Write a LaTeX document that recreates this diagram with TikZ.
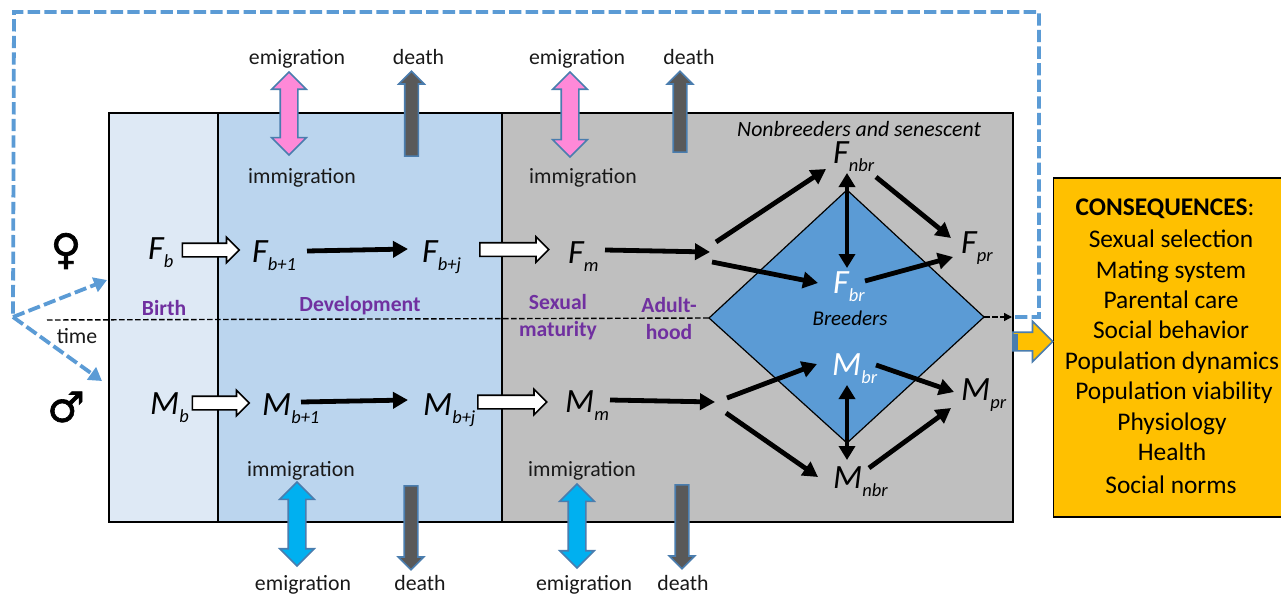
\documentclass[tikz,border=0pt]{standalone}
\usepackage{fontspec}
\setmainfont{Carlito}
\newfontfamily\symfont[FakeBold=1.5]{DejaVu Sans}
\usetikzlibrary{arrows.meta,shapes.arrows}
\definecolor{birthfill}{HTML}{DEE9F5}
\definecolor{devfill}{HTML}{BBD5EE}
\definecolor{grayfill}{HTML}{BFBFBF}
\definecolor{dimond}{HTML}{5B9BD5}
\definecolor{edgeblue}{HTML}{4A7DAE}
\definecolor{pinkarrow}{HTML}{FF89D8}
\definecolor{cyanarrow}{HTML}{00B0F0}
\definecolor{deatharrow}{HTML}{595959}
\definecolor{amberbox}{HTML}{FFC000}
\definecolor{stagepurple}{HTML}{7030A0}
\newcommand{\lbl}[2]{{\fontsize{34}{34}\selectfont\itshape #1\raisebox{-8pt}{\fontsize{18.5}{18.5}\selectfont #2}}}
\tikzset{
  panel/.style={draw=black,line width=2pt},
  blk/.style={draw=black,line width=4.8pt,-{Triangle[length=15pt,width=16pt]}},
  blkboth/.style={draw=black,line width=3.8pt,{Triangle[length=14pt,width=16pt]}-{Triangle[length=14pt,width=16pt]}},
  bluedash/.style={draw=dimond,line width=3.8pt,dash pattern=on 12.3pt off 4.3pt},
  blueend/.style={bluedash,-{Triangle[length=13pt,width=15pt]}},
  timeline/.style={draw=black,line width=1.4pt,dash pattern=on 5.5pt off 2.5pt},
  varname/.style={anchor=base west,inner sep=0pt},
  body/.style={anchor=base,inner sep=0pt,font=\fontsize{21.8}{24}\selectfont,text=black!90},
  stage/.style={inner sep=0pt,align=center,text=stagepurple,font=\fontsize{21.6}{27}\selectfont\bfseries},
  conseq/.style={anchor=base,inner sep=0pt,font=\fontsize{25.4}{28}\selectfont},
  oneway/.style n args={4}{shape=single arrow,anchor=tail,rotate=#1,minimum height=#2pt,minimum width=0pt,
     inner xsep=0pt,inner ysep=#3pt,single arrow head extend=#4pt,line width=1.6pt},
  twoway/.style n args={4}{shape=double arrow,anchor=center,rotate=#1,minimum height=#2pt,minimum width=0pt,
     inner xsep=0pt,inner ysep=#3pt,double arrow head extend=#4pt,line width=1.6pt},
  hollow/.style={oneway={0}{#1}{6}{6},draw=black,fill=white},
  deathup/.style={oneway={90}{#1}{6}{6},draw=edgeblue,fill=deatharrow},
  deathdown/.style={oneway={90}{#1}{6}{6},draw=edgeblue,fill=deatharrow},
  pinkflow/.style={twoway={90}{#1}{8}{8.5},draw=edgeblue,fill=pinkarrow},
  cyanflow/.style={twoway={90}{#1}{8}{8.5},draw=edgeblue,fill=cyanarrow},
}
\begin{document}
\begin{tikzpicture}[x=1pt,y=-1pt]
\useasboundingbox (0,0) rectangle (1281,596);
% panels
\path[panel,fill=birthfill] (109,113) rectangle (218,522);
\path[panel,fill=devfill] (218,113) rectangle (502,522);
\path[panel,fill=grayfill] (502,113) rectangle (1013,522);
% diamond
\coordinate (dL) at (709,318);
\coordinate (dR) at (984,317);
\path[draw=black,line width=1.2pt,fill=dimond] (dL) -- (847,190) -- (dR) -- (847,443) -- cycle;
% time axis
\coordinate (tstart) at (47,320);
\coordinate (tend) at (1012,317);
\draw[timeline] (tstart) -- (dL);
\draw[timeline,-{Triangle[length=8pt,width=8pt]}] (dR) -- (tend);
% feedback
\coordinate (fbA) at (1015,317);
\coordinate (fbB) at (1039,317);
\coordinate (fbC) at (1039,12);
\coordinate (fbD) at (14,12);
\coordinate (fbO) at (13,317);
\coordinate (toF) at (107,280);
\coordinate (toM) at (102,381);
\draw[bluedash] (fbA) -- (fbB) -- (fbC) -- (fbD) -- (fbO);
\draw[blueend] (fbO) -- (toF);
\draw[blueend] (fbO) -- (toM);
% consequences
\node[draw=black,line width=1.6pt,fill=amberbox,minimum width=231pt,minimum height=339pt,inner sep=0pt,anchor=north west] (box) at (1052.5,177) {};
\node[oneway={0}{40}{8.5}{11},draw=edgeblue,fill=amberbox] (outarrow) at (1012,341.5) {};
\fill[edgeblue] (1012,333.5) rectangle (1018,349.5);
% flows
\node[pinkflow=83] (em1) at (289,113.5) {};
\node[pinkflow=85] (em2) at (570,114.5) {};
\node[cyanflow=84] (im1) at (297,524) {};
\node[cyanflow=84] (im2) at (577,526) {};
\node[deathup=85] (d1) at (411.5,157) {};
\node[deathup=81] (d2) at (680,153) {};
\node[deathdown=84,rotate=180] (d3) at (411,485) {};
\node[deathdown=84,rotate=180] (d4) at (682,484) {};
% variables
\node[varname] (Fb) at (148,259) {\lbl{F}{b}};
\node[varname] (Fb1) at (252,262) {\lbl{F}{b+1}};
\node[varname] (Fbj) at (422,262) {\lbl{F}{b+j}};
\node[varname] (Fm) at (568,263) {\lbl{F}{m}};
\node[varname] (Mb) at (150,414) {\lbl{M}{b}};
\node[varname] (Mb1) at (262,415) {\lbl{M}{b+1}};
\node[varname] (Mbj) at (423,415) {\lbl{M}{b+j}};
\node[varname] (Mm) at (565,412) {\lbl{M}{m}};
\node[varname] (Fnbr) at (833,164) {\lbl{F}{nbr}};
\node[varname,text=white] (Fbr) at (833,293) {\lbl{F}{br}};
\node[varname] (Fpr) at (961,253) {\lbl{F}{pr}};
\node[varname,text=white] (Mbr) at (832,375) {\lbl{M}{br}};
\node[varname] (Mnbr) at (833,488) {\lbl{M}{nbr}};
\node[varname] (Mpr) at (961,400) {\lbl{M}{pr}};
\coordinate (jf) at (712,252);
\coordinate (jm) at (720,402);
% hollow arrows
\node[hollow=57] (hFb) at (181.5,250) {};
\node[hollow=69] (hFj) at (479,249.5) {};
\node[hollow=57] (hMb) at (191.5,403) {};
\node[hollow=69] (hMj) at (477,402) {};
% black connectors
\draw[blk] ([shift={(55,-11)}]Fb1.base west) -- ([shift={(-14,-13)}]Fbj.base west);
\draw[blk] ([shift={(37,-13)}]Fm.base west) -- ([shift={(-2,0)}]jf);
\draw[blk] ([shift={(4,-10)}]jf) -- ([shift={(-7,5)}]Fnbr.base west);
\draw[blk] ([shift={(0,10)}]jf) -- ([shift={(-15,-10)}]Fbr.base west);
\draw[blk] ([shift={(43,13)}]Fnbr.base west) -- ([shift={(-10,-15)}]Fpr.base west);
\draw[blk] ([shift={(32,-12)}]Fbr.base west) -- ([shift={(-8,4)}]Fpr.base west);
\draw[blkboth] ([shift={(14,9)}]Fnbr.base west) -- ([shift={(14,-25)}]Fbr.base west);
\draw[blk] ([shift={(39,-13)}]Mb1.base west) -- ([shift={(-15,-15)}]Mbj.base west);
\draw[blk] ([shift={(45,-12)}]Mm.base west) -- ([shift={(-5,0)}]jm);
\draw[blk] ([shift={(7,-4)}]jm) -- ([shift={(-15,-11)}]Mbr.base west);
\draw[blk] ([shift={(6,11)}]jm) -- ([shift={(-15,-11)}]Mnbr.base west);
\draw[blk] ([shift={(44,-10)}]Mbr.base west) -- ([shift={(-7,-8)}]Mpr.base west);
\draw[blk] ([shift={(36,-20)}]Mnbr.base west) -- ([shift={(-10,8)}]Mpr.base west);
\draw[blkboth] ([shift={(15,10)}]Mbr.base west) -- ([shift={(14,-28)}]Mnbr.base west);
% flow labels
\node[body] (t1) at (297,64.5) {emigration};
\node[body] (t2) at (418.5,64.5) {death};
\node[body] (t3) at (577,64.5) {emigration};
\node[body] (t4) at (689,64.5) {death};
\node[body] (t5) at (302,183) {immigration};
\node[body] (t6) at (583,183) {immigration};
\node[body] (t7) at (301,476) {immigration};
\node[body] (t8) at (582,476) {immigration};
\node[body] (t9) at (303,590.5) {emigration};
\node[body] (t10) at (420,590.5) {death};
\node[body] (t11) at (584,590.5) {emigration};
\node[body] (t12) at (683,590.5) {death};
\node[body] (time) at (77,343) {time};
% sexes
\node[inner sep=0pt,font=\symfont\fontsize{42}{42}\selectfont] (fem) at (66,251) {♀};
\node[inner sep=0pt,font=\symfont\fontsize{42}{42}\selectfont] (mal) at (66,407) {♂};
% stages
\node[stage] (s1) at (164,307.5) {Birth};
\node[stage] (s2) at (360,305.5) {Development};
\node[stage] (s3) at (558,317) {Sexual\\maturity};
\node[stage] (s4) at (669,318) {Adult-\\hood};
\node[inner sep=0pt,font=\fontsize{21.8}{24}\selectfont\itshape] (nb) at (859,129) {Nonbreeders and senescent};
\node[inner sep=0pt,font=\fontsize{21}{24}\selectfont\itshape] (br) at (850,318) {Breeders};
% consequences text
\node[conseq] (c0) at (1165,215) {\textbf{CONSEQUENCES}:};
\node[conseq] (c1) at (1171,247) {Sexual selection};
\node[conseq] (c2) at (1171,278) {Mating system};
\node[conseq] (c3) at (1171,308) {Parental care};
\node[conseq] (c4) at (1171,338) {Social behavior};
\node[conseq] (c5) at (1172,369) {Population dynamics};
\node[conseq] (c6) at (1174,399) {Population viability};
\node[conseq] (c7) at (1172,430) {Physiology};
\node[conseq] (c8) at (1172,460) {Health};
\node[conseq] (c9) at (1171,493) {Social norms};
\end{tikzpicture}
\end{document}
